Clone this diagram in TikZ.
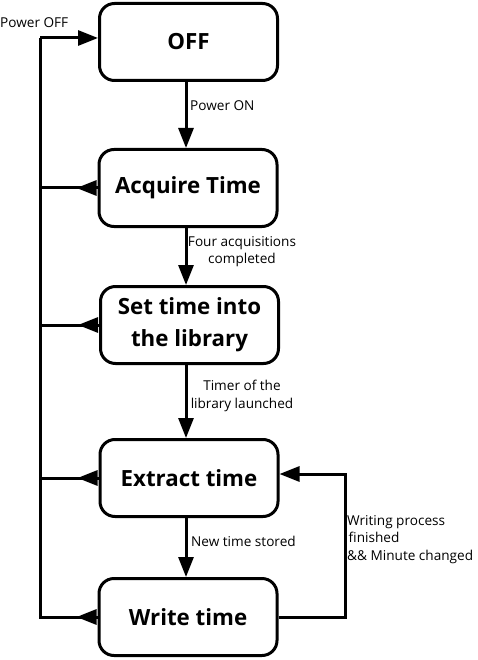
\documentclass[tikz,border=0pt]{standalone}
\usepackage{fontspec}
\setmainfont{Open Sans}
\usetikzlibrary{arrows.meta}
\begin{document}
\begin{tikzpicture}[x=1pt,y=-1pt,
  state/.style={draw, line width=3pt, rounded corners=15pt, minimum width=178pt, minimum height=77pt,
    font=\bfseries\fontsize{22.3}{32}\selectfont, align=center, inner sep=0pt},
  ln/.style={line width=3pt, line join=miter},
  arr/.style={line width=3pt, line join=miter, -{Triangle[length=20pt,width=15pt]}},
  lbl/.style={font=\fontsize{13.6}{17.5}\selectfont, inner sep=0pt}]
\useasboundingbox (0,0) rectangle (477,660);
\fill[white] (0,0) rectangle (477,660);
\node[state] (off) at (188.5,42) {OFF};
\node[state] (acq) at (188,188) {Acquire Time};
\node[state] (set) at (189.5,325) {Set time into\\the library};
\node[state] (ex) at (189,478) {Extract time};
\node[state] (wr) at (188,617) {Write time};
\coordinate (vx) at (186,0);
\coordinate (bus) at (40,0);
% vertical transitions
\draw[arr] (off.south -| vx) -- (acq.north -| vx);
\draw[arr] (acq.south -| vx) -- (set.north -| vx);
\draw[arr] (set.south -| vx) -- (ex.north -| vx);
\draw[arr] (ex.south -| vx) -- (wr.north -| vx);
% power off bus
\draw[ln] (wr.west) -- (wr.west -| bus) -- ([yshift=4pt]off.west -| bus);
\draw[arr] ([yshift=4pt]off.west -| bus) -- ([yshift=4pt]off.west);
\draw[ln] (acq.west) -- (acq.west -| bus);
\draw[ln] (set.west) -- (set.west -| bus);
\draw[ln] (ex.west) -- (ex.west -| bus);
\draw[arr] (acq.west) -- ++(-21,0);
\draw[arr] (set.west) -- ++(-21,0);
\draw[arr] (ex.west) -- ++(-21,0);
\draw[arr] (wr.west) -- ++(-21,0);
% loop back
\draw[arr] (wr.east) -- ++(67,0) |- ([yshift=4pt]ex.east);
% labels
\node[lbl, anchor=base west] (lpoff) at (0,28) {Power OFF};
\node[lbl, anchor=base west] (lpon) at (190,111) {Power ON};
\node[lbl, anchor=north, align=center] (lfour) at (242,236) {Four acquisitions\\completed};
\node[lbl, anchor=north, align=center] (ltimer) at (242,380) {Timer of the\\library launched};
\node[lbl, anchor=base west] (lnew) at (191,546) {New time stored};
\node[lbl, anchor=north west, align=left] (lwrite) at (347,515) {Writing process\\\hspace{1.5pt}finished\\\&\& Minute changed};
\end{tikzpicture}
\end{document}
